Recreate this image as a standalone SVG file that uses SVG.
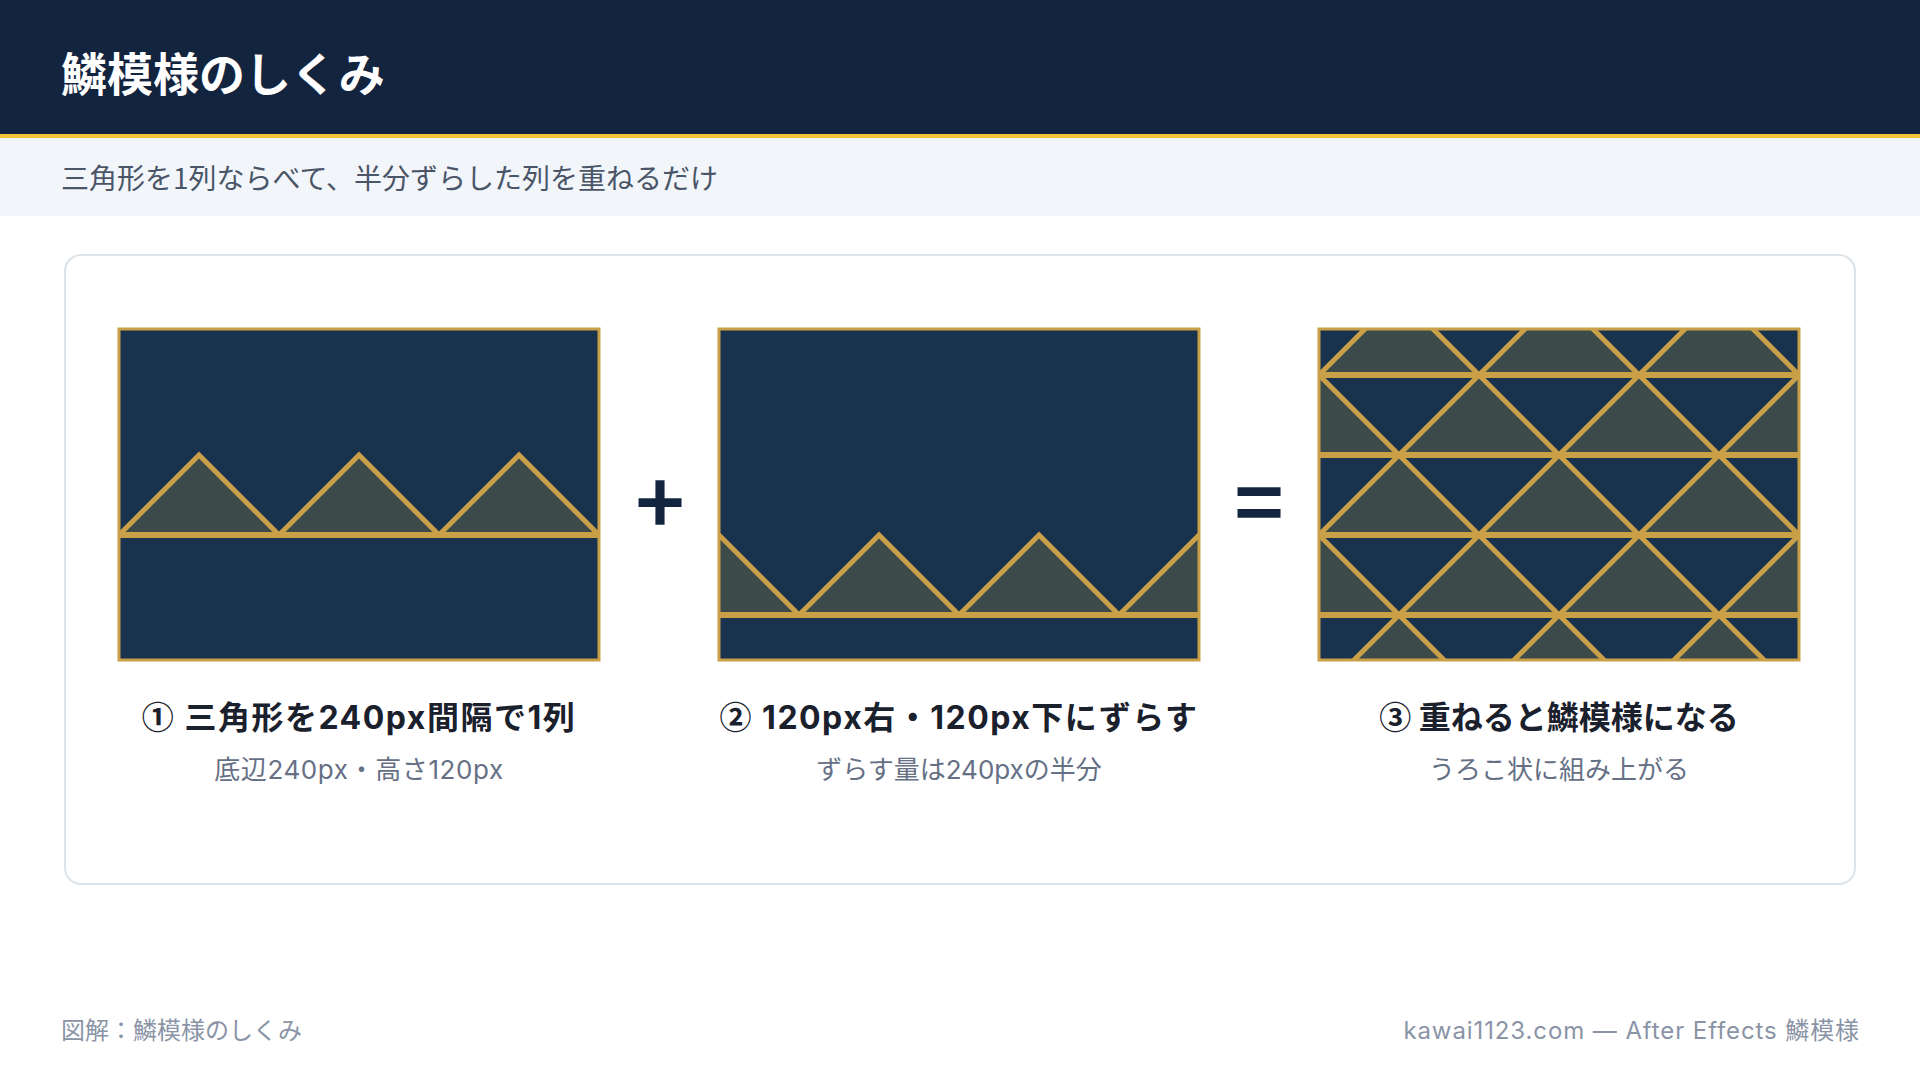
<svg xmlns="http://www.w3.org/2000/svg" width="1920" height="1080" viewBox="0 0 1920 1080">
  <style>
    .jp { font-family: "Noto Sans CJK JP", "Noto Sans", sans-serif; }
    .mix { font-family: Inter, "Noto Sans CJK JP", sans-serif; }
    .title { font-size: 46px; font-weight: 700; fill: #FFFFFF; }
    .subtitle { font-size: 28px; fill: #4A5568; }
    .cap { font-size: 32px; font-weight: 700; fill: #1A202C; text-anchor: middle; }
    .sub { font-size: 26px; fill: #667085; text-anchor: middle; }
    .foot { font-size: 24px; fill: #8A94A6; }
    .wide { letter-spacing: 0.9px; }
    .capwide { letter-spacing: 1.5px; }
    .subwide { letter-spacing: 0.6px; }
    .op { font-size: 84px; font-weight: 700; fill: #13243F; text-anchor: middle; }
    .bg { fill: #19324D; }
    .frame { fill: none; stroke: #C9A048; stroke-width: 3; }
    .tri { fill: #3D4A4A; stroke: #C9A048; stroke-width: 5; stroke-linejoin: miter; }
    .hl { stroke: #C9A048; stroke-width: 6; }
  </style>
  <defs>
    <clipPath id="c1"><rect x="119" y="329" width="480" height="331"/></clipPath>
    <clipPath id="c2"><rect x="719" y="329" width="480" height="331"/></clipPath>
    <clipPath id="c3"><rect x="1319" y="329" width="480" height="331"/></clipPath>
  </defs>

  <rect x="0" y="0" width="1920" height="1080" fill="#FFFFFF"/>

  <g id="header">
    <rect x="0" y="0" width="1920" height="134" fill="#13243F"/>
    <rect x="0" y="134" width="1920" height="4" fill="#F6C33C"/>
    <text class="jp title" x="61" y="91">鱗模様のしくみ</text>
  </g>

  <g id="subtitle-band">
    <rect x="0" y="138" width="1920" height="78" fill="#F2F5FA"/>
    <text class="jp subtitle" x="61" y="189">三角形を1列ならべて、半分ずらした列を重ねるだけ</text>
  </g>

  <g id="card">
    <rect x="65" y="255" width="1790" height="629" rx="16" fill="#FFFFFF" stroke="#DDE3EA" stroke-width="2"/>
  </g>

  <g id="panel1">
    <rect class="bg" x="119" y="329" width="480" height="331"/>
    <g clip-path="url(#c1)">
      <polygon class="tri" points="119,535 199,455 279,535"/>
      <polygon class="tri" points="279,535 359,455 439,535"/>
      <polygon class="tri" points="439,535 519,455 599,535"/>
      <line class="hl" x1="119" y1="535" x2="599" y2="535"/>
    </g>
    <rect class="frame" x="119" y="329" width="480" height="331"/>
    <text class="mix cap capwide" x="359" y="729"><tspan class="jp">①</tspan> 三角形を240px間隔で1列</text>
    <text class="mix sub subwide" x="359" y="779">底辺240px・高さ120px</text>
  </g>

  <g id="panel2">
    <rect class="bg" x="719" y="329" width="480" height="331"/>
    <g clip-path="url(#c2)">
      <polygon class="tri" points="639,615 719,535 799,615"/>
      <polygon class="tri" points="799,615 879,535 959,615"/>
      <polygon class="tri" points="959,615 1039,535 1119,615"/>
      <polygon class="tri" points="1119,615 1199,535 1279,615"/>
      <line class="hl" x1="719" y1="615" x2="1199" y2="615"/>
    </g>
    <rect class="frame" x="719" y="329" width="480" height="331"/>
    <text class="mix cap capwide" x="959" y="729"><tspan class="jp">②</tspan> 120px右・120px下にずらす</text>
    <text class="mix sub" x="959" y="779">ずらす量は240pxの半分</text>
  </g>

  <g id="panel3">
    <rect class="bg" x="1319" y="329" width="480" height="331"/>
    <g clip-path="url(#c3)">
      <polygon class="tri" points="1319,375 1399,295 1479,375"/>
      <polygon class="tri" points="1479,375 1559,295 1639,375"/>
      <polygon class="tri" points="1639,375 1719,295 1799,375"/>

      <polygon class="tri" points="1239,455 1319,375 1399,455"/>
      <polygon class="tri" points="1399,455 1479,375 1559,455"/>
      <polygon class="tri" points="1559,455 1639,375 1719,455"/>
      <polygon class="tri" points="1719,455 1799,375 1879,455"/>

      <polygon class="tri" points="1319,535 1399,455 1479,535"/>
      <polygon class="tri" points="1479,535 1559,455 1639,535"/>
      <polygon class="tri" points="1639,535 1719,455 1799,535"/>

      <polygon class="tri" points="1239,615 1319,535 1399,615"/>
      <polygon class="tri" points="1399,615 1479,535 1559,615"/>
      <polygon class="tri" points="1559,615 1639,535 1719,615"/>
      <polygon class="tri" points="1719,615 1799,535 1879,615"/>

      <polygon class="tri" points="1319,695 1399,615 1479,695"/>
      <polygon class="tri" points="1479,695 1559,615 1639,695"/>
      <polygon class="tri" points="1639,695 1719,615 1799,695"/>

      <line class="hl" x1="1319" y1="375" x2="1799" y2="375"/>
      <line class="hl" x1="1319" y1="455" x2="1799" y2="455"/>
      <line class="hl" x1="1319" y1="535" x2="1799" y2="535"/>
      <line class="hl" x1="1319" y1="615" x2="1799" y2="615"/>
    </g>
    <rect class="frame" x="1319" y="329" width="480" height="331"/>
    <text class="mix cap" x="1559" y="729"><tspan class="jp">③</tspan> 重ねると鱗模様になる</text>
    <text class="mix sub" x="1559" y="779">うろこ状に組み上がる</text>
  </g>

  <g id="connectors">
    <text class="jp op" x="660" y="534">+</text>
    <text class="jp op" x="1259" y="534">=</text>
  </g>

  <g id="footer">
    <text class="jp foot" x="61" y="1039">図解：鱗模様のしくみ</text>
    <text class="mix foot wide" x="1860" y="1039" text-anchor="end">kawai1123.com — After Effects 鱗模様</text>
  </g>
</svg>
